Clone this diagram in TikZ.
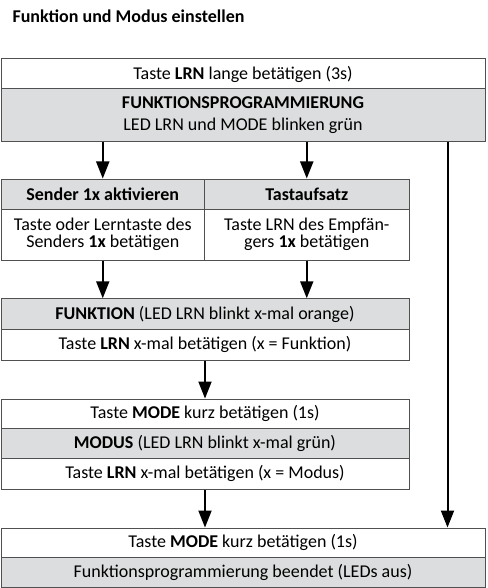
\documentclass[tikz,border=0pt]{standalone}
\usepackage{fontspec}
\setmainfont{Carlito}
\usetikzlibrary{positioning,
        arrows.meta}
\definecolor{boxgray}{HTML}{DCDDDE}
\definecolor{linegray}{HTML}{505050}

\begin{document}
\begin{tikzpicture}[x=1pt,y=-1pt,
        font=\fontsize{18}{17}\selectfont,
        box/.style={rectangle,draw=linegray,line width=1pt,inner sep=0pt,align=center},
        grey/.style={box,fill=boxgray},
        arr/.style={-{Triangle[length=17pt,width=13pt]},line width=2pt}]
            \useasboundingbox (0,0) rectangle (487,588);
            \node [anchor=base west,font=\fontsize{18}{17}\selectfont\bfseries] (title) at (9,23) {Funktion und Modus einstellen};

            \node [box,minimum width=484pt,minimum height=30pt] (lrn) at (243,74) {Taste \textbf{LRN} lange betätigen (3s)};
            \node [grey,minimum width=484pt,minimum height=53pt] (prog) at (243,115.5) {\textbf{FUNKTIONSPROGRAMMIERUNG}\\[5pt]LED LRN und MODE blinken grün};

            \node [grey,minimum width=203.5pt,minimum height=30pt] (sendhead) at (102.75,194) {\textbf{Sender 1x aktivieren}};
            \node [box,minimum width=203.5pt,minimum height=51pt] (sendbody) at (102.75,234.5) {Taste oder Lerntaste des\\Senders \textbf{1x} betätigen};
            \node [grey,minimum width=204.5pt,minimum height=30pt] (tasthead) at (306.75,194) {\textbf{Tastaufsatz}};
            \node [box,minimum width=204.5pt,minimum height=51pt] (tastbody) at (306.75,234.5) {Taste LRN des Empfän-\\gers \textbf{1x} betätigen};

            \node [grey,minimum width=408pt,minimum height=30.5pt] (funk) at (205,314) {\textbf{FUNKTION} (LED LRN blinkt x-mal orange)};
            \node [box,minimum width=408pt,minimum height=30.5pt] (funkx) at (205,344.75) {Taste \textbf{LRN} x-mal betätigen (x = Funktion)};

            \node [box,minimum width=408pt,minimum height=29.5pt] (mode1) at (205,413.75) {Taste \textbf{MODE} kurz betätigen (1s)};
            \node [grey,minimum width=408pt,minimum height=30pt] (modus) at (205,443.5) {\textbf{MODUS} (LED LRN blinkt x-mal grün)};
            \node [box,minimum width=408pt,minimum height=30.5pt] (modusx) at (205,473.75) {Taste \textbf{LRN} x-mal betätigen (x = Modus)};

            \node [box,minimum width=484pt,minimum height=29.5pt] (mode2) at (243,542.75) {Taste \textbf{MODE} kurz betätigen (1s)};
            \node [grey,minimum width=484pt,minimum height=29.5pt] (ende) at (243,572.25) {Funktionsprogrammierung beendet (LEDs aus)};

            \draw [arr] (prog.south -| sendhead) -- (sendhead.north);
            \draw [arr] (prog.south -| tasthead) -- (tasthead.north);
            \draw [arr] ([xshift=-38pt]prog.south east) -- ([xshift=-38pt]mode2.north east);
            \draw [arr] (sendbody.south) -- (sendbody.south |- funk.north);
            \draw [arr] (tastbody.south) -- (tastbody.south |- funk.north);
            \draw [arr] (funkx.south) -- (mode1.north);
            \draw [arr] (modusx.south) -- (modusx.south |- mode2.north);
        \end{tikzpicture}
\end{document}
